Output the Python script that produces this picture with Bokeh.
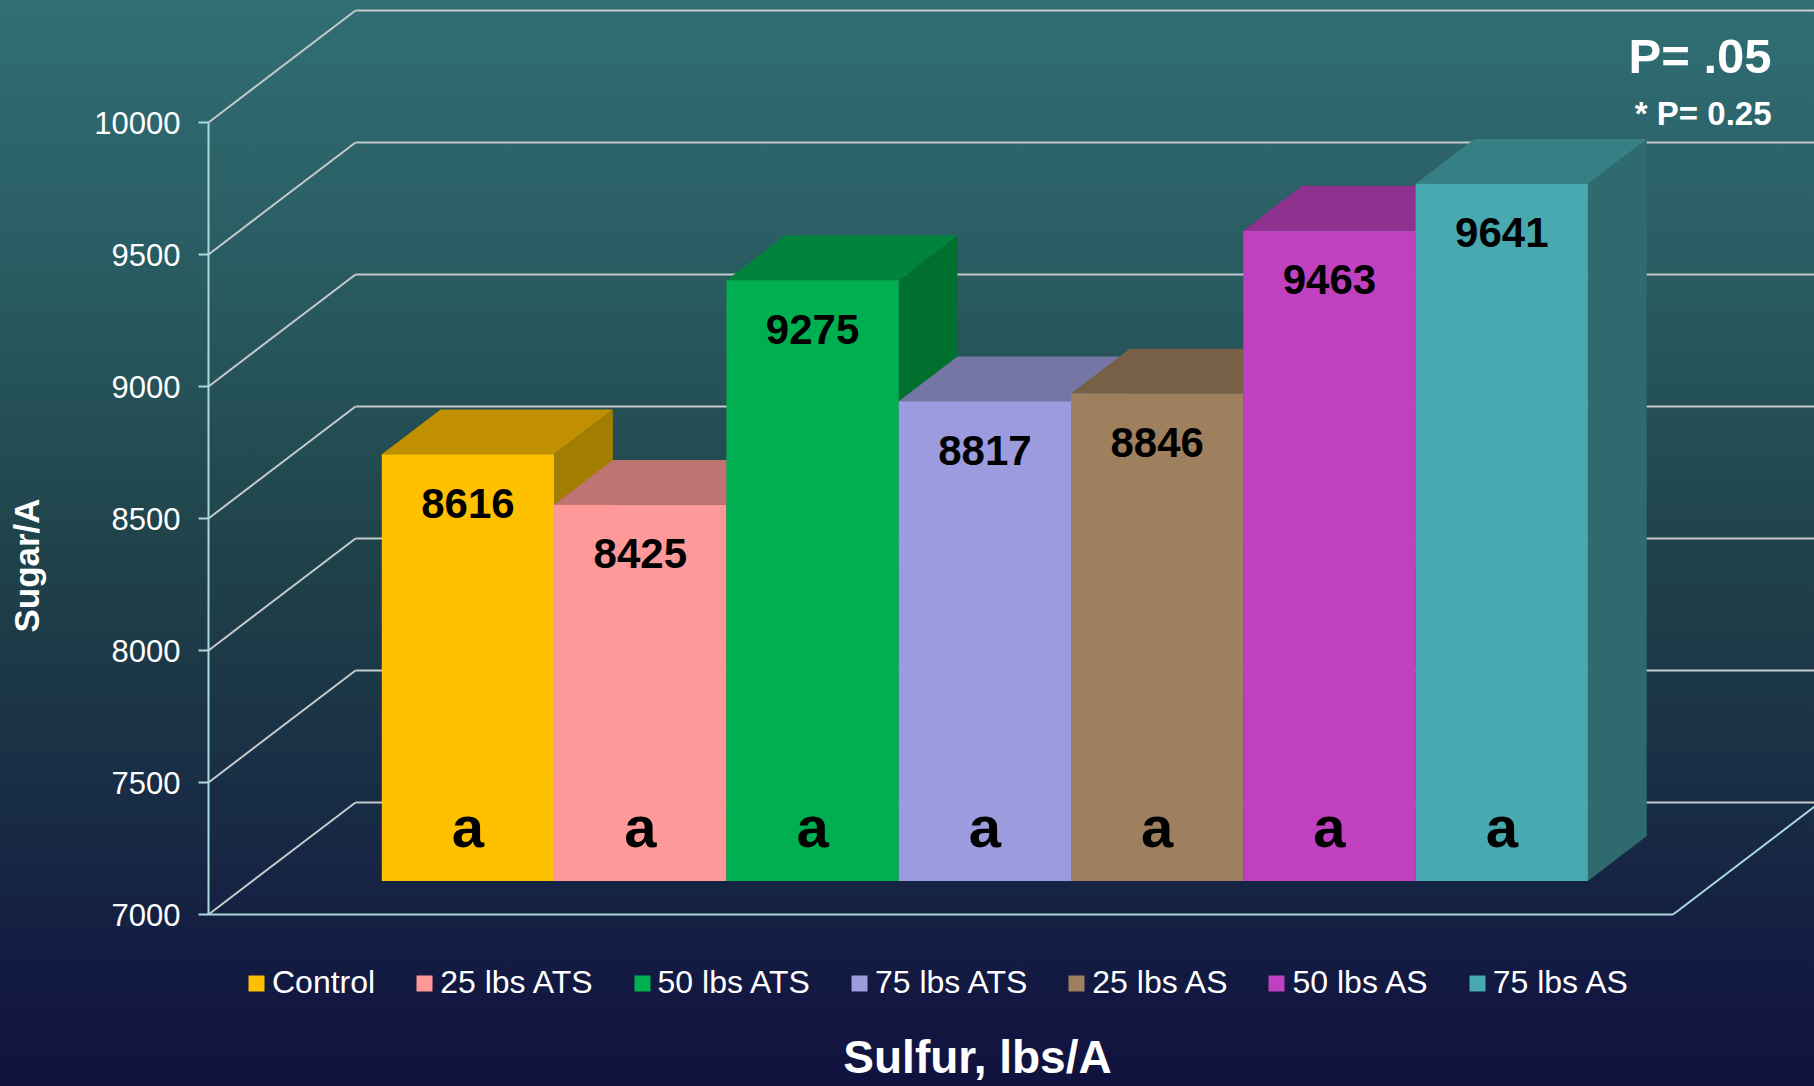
import numpy as np
from bokeh.plotting import figure
from bokeh.models import (ColumnDataSource, FixedTicker, Label, Legend, LegendItem,
                          InlineStyleSheet, Range1d)
from bokeh.core.properties import value
from bokeh.embed import file_html
from bokeh.resources import INLINE

# ---------------- data ----------------
categories = ["Control", "25 lbs ATS", "50 lbs ATS", "75 lbs ATS", "25 lbs AS", "50 lbs AS", "75 lbs AS"]
sugar = [8616, 8425, 9275, 8817, 8846, 9463, 9641]
letters = ["a", "a", "a", "a", "a", "a", "a"]
y_ticks = [7000, 7500, 8000, 8500, 9000, 9500, 10000]
front_colors = ["#FFC000", "#FF9999", "#00B050", "#9B9BDD", "#9E7F5E", "#BF41BF", "#48A9B0"]
top_colors = ["#C09000", "#BF7373", "#00843C", "#7676A6", "#776046", "#8F318F", "#367F84"]
side_colors = ["#A27E00", "#A06060", "#00702F", "#62628C", "#64503B", "#782978", "#2E6A6E"]
x_title = "Sulfur, lbs/A"
y_title = "Sugar/A"
note_main = "P= .05"
note_sub = "* P= 0.25"

# ---------------- geometry (screen scale) ----------------
W, H = 1814, 1086
AXIS_PX = 208              # page x of the front vertical axis
PX_X = 172.3               # pixels per category unit
PX_Y = 0.264               # pixels per sugar unit
BASE = y_ticks[0]
GAP = 0.75
N = len(categories)
FLOOR_W = 2 * GAP + N
DX = 147 / PX_X            # depth offset (x) of full depth
DY = 112 / PX_Y            # depth offset (y) of full depth
F0, F1 = 0.3, 0.7          # bar depth span

x_start = -AXIS_PX / PX_X
x_end = x_start + W / PX_X
y_end = BASE + 914 / PX_Y
y_start = y_end - H / PX_Y


def px2x(page_x):
    return x_start + page_x / PX_X


def px2y(page_y):
    return y_end - page_y / PX_Y


p = figure(width=W, height=H, output_backend="svg", toolbar_location=None,
           x_range=Range1d(x_start, x_end), y_range=Range1d(y_start, y_end),
           x_axis_location=None, y_axis_location="left",
           min_border_left=0, min_border_right=0, min_border_top=0, min_border_bottom=0)
p.background_fill_color = None
p.border_fill_color = None
p.outline_line_color = None
p.grid.visible = False
p.stylesheets = [InlineStyleSheet(css=""":host { background: linear-gradient(to bottom,
    #306F75 0%, #28595F 28%, #1F4149 52%, #182C45 74%, #131A42 90%, #10123E 100%); }""")]

FONT = value("Liberation Sans")

# y axis, fixed at the front-left edge of the floor
ax = p.yaxis[0]
ax.fixed_location = 0
ax.ticker = FixedTicker(ticks=y_ticks)
ax.axis_line_color = None
ax.major_tick_in = 0
ax.major_tick_out = 10
ax.major_tick_line_color = "#A9D9DB"
ax.major_tick_line_width = 2
ax.minor_tick_line_color = None
ax.major_label_standoff = 18
ax.major_label_text_font = "Liberation Sans"
ax.major_label_text_font_size = "31px"
ax.major_label_text_color = "white"

ticks = np.array(y_ticks, dtype=float)
GRID = "#C6CACA"
AXC = "#A9D9DB"

# back wall grid and left-wall diagonals
p.segment(x0=np.zeros(len(ticks)), y0=ticks, x1=np.full(len(ticks), DX), y1=ticks + DY,
          line_color=GRID, line_width=2)
p.segment(x0=np.full(len(ticks), DX), y0=ticks + DY, x1=np.full(len(ticks), FLOOR_W + DX),
          y1=ticks + DY, line_color=GRID, line_width=2)
# floor front / right edge and vertical axis line
p.segment(x0=[0, FLOOR_W, 0], y0=[BASE, BASE, BASE],
          x1=[FLOOR_W, FLOOR_W + DX, 0], y1=[BASE, BASE + DY, ticks[-1]],
          line_color=AXC, line_width=2)

# bars
idx = np.arange(N)
L = GAP + idx
R = L + 1
v = np.array(sugar, dtype=float)

side_src = ColumnDataSource(dict(
    xs=[[r + F0 * DX, r + F1 * DX, r + F1 * DX, r + F0 * DX] for r in R],
    ys=[[BASE + F0 * DY, BASE + F1 * DY, val + F1 * DY, val + F0 * DY] for val in v],
    color=side_colors))
top_src = ColumnDataSource(dict(
    xs=[[l + F0 * DX, r + F0 * DX, r + F1 * DX, l + F1 * DX] for l, r in zip(L, R)],
    ys=[[val + F0 * DY, val + F0 * DY, val + F1 * DY, val + F1 * DY] for val in v],
    color=top_colors))
front_src = ColumnDataSource(dict(
    left=L + F0 * DX, right=R + F0 * DX, bottom=np.full(N, BASE + F0 * DY), top=v + F0 * DY,
    color=front_colors, cat=categories,
    cx=(L + R) / 2 + F0 * DX, lab=[str(s) for s in sugar], letter=letters))

p.patches("xs", "ys", source=side_src, fill_color="color", line_color=None)
p.patches("xs", "ys", source=top_src, fill_color="color", line_color=None)
fr = p.quad(left="left", right="right", bottom="bottom", top="top", source=front_src,
            fill_color="color", line_color=None)

p.text(x="cx", y="top", text="lab", source=front_src, text_font=FONT, text_font_style="bold",
       text_font_size="42px", text_color="black", text_align="center",
       text_baseline="middle", y_offset=49)
p.text(x="cx", y="bottom", text="letter", source=front_src, text_font=FONT, text_font_style="bold",
       text_font_size="58px", text_color="black", text_align="center",
       text_baseline="middle", y_offset=-54)

# y title (rotated), inside the frame at the left edge
p.text(x=[px2x(26)], y=[px2y(565)], text=[y_title], angle=np.pi / 2, text_font=FONT,
       text_font_style="bold", text_font_size="35px", text_color="white",
       text_align="center", text_baseline="middle")

# legend
legend = Legend(items=[LegendItem(label=c, renderers=[fr], index=i) for i, c in enumerate(categories)],
                orientation="horizontal", location=(246, 85), padding=0, margin=0, spacing=39,
                label_standoff=6, glyph_width=20, glyph_height=20,
                background_fill_alpha=0, border_line_alpha=0,
                label_text_font="Liberation Sans", label_text_font_size="32px",
                label_text_color="white")
p.add_layout(legend)

# titles / notes
p.add_layout(Label(x=px2x(977), y=px2y(1056), text=x_title, text_align="center",
                   text_baseline="middle", text_font="Liberation Sans", text_font_style="bold",
                   text_font_size="46px", text_color="white"))
p.add_layout(Label(x=px2x(1771), y=px2y(55), text=note_main, text_align="right",
                   text_baseline="middle", text_font="Liberation Sans", text_font_style="bold",
                   text_font_size="49px", text_color="white"))
p.add_layout(Label(x=px2x(1771), y=px2y(113), text=note_sub, text_align="right",
                   text_baseline="middle", text_font="Liberation Sans", text_font_style="bold",
                   text_font_size="33px", text_color="white"))

open("out.html", "w").write(file_html(p, INLINE))
